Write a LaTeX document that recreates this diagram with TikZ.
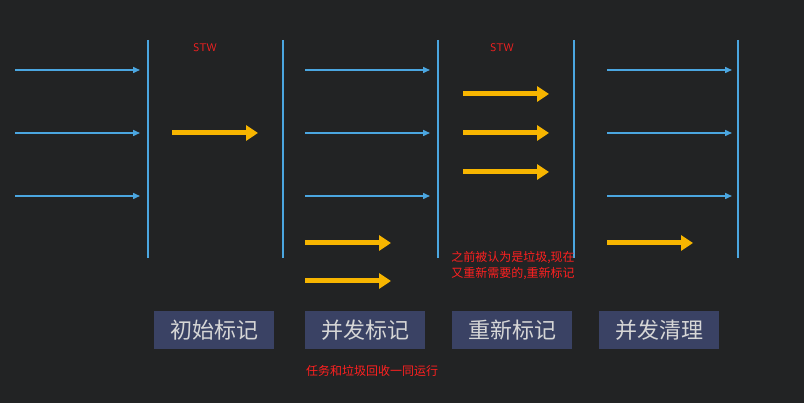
\documentclass[tikz,border=0pt]{standalone}
\usepackage{fontspec}
\newfontfamily\cjk{Noto Sans CJK SC}
\usetikzlibrary{arrows.meta}
\definecolor{bg}{HTML}{222324}
\definecolor{lb}{HTML}{4BA6E0}
\definecolor{yl}{HTML}{F7B500}
\definecolor{boxc}{HTML}{3A4264}
\definecolor{tx}{HTML}{D6D6D6}
\definecolor{rd}{HTML}{FF2020}
\tikzset{
 vline/.style={lb, line width=2pt},
 thin/.style={lb, line width=1.5pt, -{Triangle[length=7pt,width=6pt]}},
 fat/.style={yl, line width=5pt, -{Triangle[length=12pt,width=15pt]}},
 phase/.style={fill=boxc, text=tx, font=\cjk\fontsize{22}{24}\selectfont, minimum width=120pt, minimum height=38pt, inner sep=0pt},
 note/.style={text=rd, font=\cjk\fontsize{12}{14}\selectfont, inner sep=0pt},
}
\begin{document}
\begin{tikzpicture}[x=1pt,y=-1pt]
\fill[bg] (0,0) rectangle (804,403);
\useasboundingbox (0,0) rectangle (804,403);
\foreach \x/\n in {148/a,283/b,438/c,574/d,738/e}{
 \coordinate (\n t) at (\x,40); \coordinate (\n b) at (\x,258);
 \draw[vline] (\n t) -- (\n b);}
\foreach \x/\n in {15/p,305/q,607/r}{
 \foreach \y/\m in {70/1,133/2,196/3}{
  \coordinate (\n\m s) at (\x,\y); \coordinate (\n\m e) at (\x+125,\y);
  \draw[thin] (\n\m s) -- (\n\m e);}}
\foreach \x/\y/\n in {172/133/f1,305/243/f2,305/281/f3,463/94/f4,463/133/f5,463/172/f6,607/243/f7}{
 \coordinate (\n s) at (\x,\y); \coordinate (\n e) at (\x+86,\y);
 \draw[fat] (\n s) -- (\n e);}
\node[phase] (p1) at (214,330) {初始标记};
\node[phase] (p2) at (365,330) {并发标记};
\node[phase] (p3) at (512,330) {重新标记};
\node[phase] (p4) at (659,330) {并发清理};
\node[note, font=\sffamily\fontsize{11}{13}\selectfont] (s1) at (205,48) {STW};
\node[note, font=\sffamily\fontsize{11}{13}\selectfont] (s2) at (502,48) {STW};
\node[note] (n1) at (513,258) {之前被认为是垃圾,现在};
\node[note] (n2) at (513,274) {又重新需要的,重新标记};
\node[note] (n3) at (372,371) {任务和垃圾回收一同运行};
\end{tikzpicture}
\end{document}
